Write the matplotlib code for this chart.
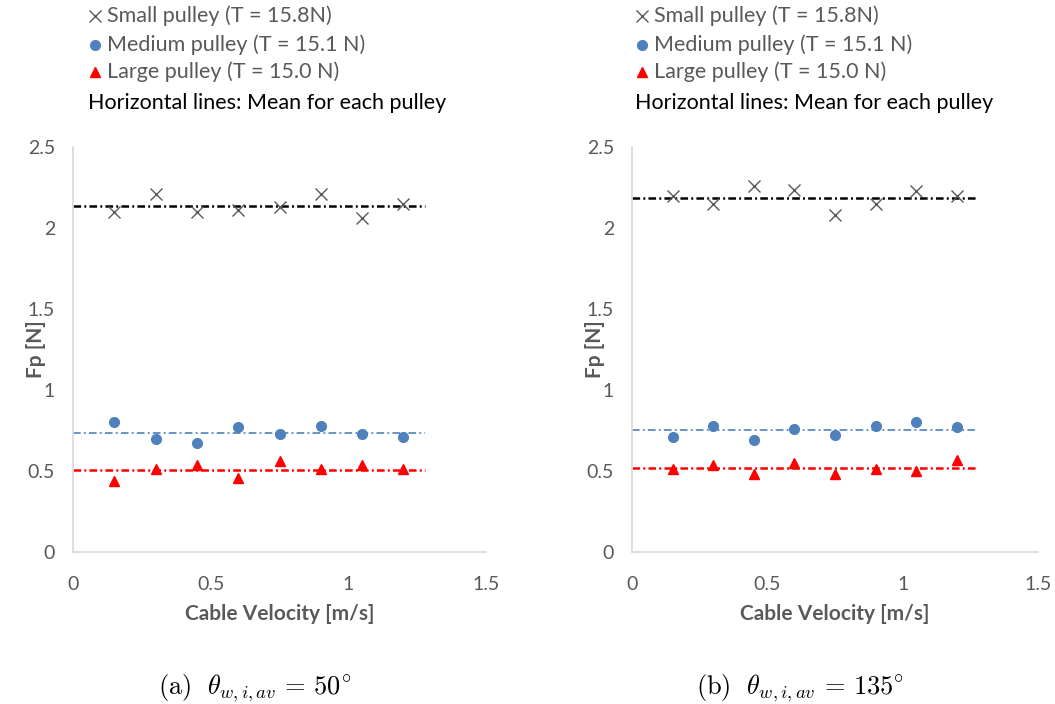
import numpy as np
import matplotlib
matplotlib.use("Agg")
import matplotlib.pyplot as plt
from matplotlib.lines import Line2D

plt.rcParams['font.family'] = ['Lato', 'DejaVu Sans']
plt.rcParams['mathtext.fontset'] = 'cm'

# Cable velocity (m/s), same for all series
velocity = [0.15, 0.30, 0.45, 0.60, 0.75, 0.90, 1.05, 1.20]

# Panel (a): theta = 50 deg
small_a = [2.10, 2.21, 2.10, 2.11, 2.13, 2.21, 2.06, 2.15]
medium_a = [0.80, 0.70, 0.67, 0.77, 0.73, 0.78, 0.73, 0.71]
large_a = [0.44, 0.51, 0.54, 0.455, 0.56, 0.51, 0.535, 0.515]

# Panel (b): theta = 135 deg
small_b = [2.20, 2.15, 2.26, 2.235, 2.08, 2.15, 2.23, 2.20]
medium_b = [0.71, 0.78, 0.69, 0.76, 0.72, 0.78, 0.80, 0.77]
large_b = [0.51, 0.54, 0.48, 0.55, 0.48, 0.51, 0.50, 0.57]

legend_labels = ["Small pulley (T = 15.8N)", "Medium pulley (T = 15.1 N)",
                 "Large pulley (T = 15.0 N)"]
captions = [r"$\mathrm{(a)}\ \ \theta_{w,i,av} \,=\, 50^{\circ}$",
            r"$\mathrm{(b)}\ \ \theta_{w,i,av} \,=\, 135^{\circ}$"]

GREY = '#595959'
BLUE = '#4F81BD'
RED = '#FF0000'
W, H = 1055, 704

fig = plt.figure(figsize=(W / 100, H / 100), dpi=100)


def px(x, y):
    return x / W, 1 - y / H


def dashdot(lw):
    # dash-dot pattern with a fixed length in points, whatever the width
    return (0, (5.5 / lw, 2.3 / lw, 1.4 / lw, 2.3 / lw))


panels = [
    dict(left=73, right=486, small=small_a, medium=medium_a, large=large_a,
         cap_x=255, leg_x=88),
    dict(left=632, right=1038, small=small_b, medium=medium_b, large=large_b,
         cap_x=800, leg_x=635),
]

for i, p in enumerate(panels):
    l, b = px(p['left'], 552)
    wpx = p['right'] - p['left']
    ax = fig.add_axes([l, b, wpx / W, (552 - 147) / H])

    ax.plot(velocity, p['small'], 'x', color=GREY, ms=9, mew=1.0, zorder=3)
    ax.plot(velocity, p['medium'], 'o', color=BLUE, ms=7, zorder=3)
    ax.plot(velocity, p['large'], '^', color=RED, ms=7.5, zorder=3)

    # mean lines
    for vals, col, lw in [(p['small'], 'black', 1.8), (p['medium'], BLUE, 1.2),
                          (p['large'], RED, 1.8)]:
        m = np.mean(vals)
        ax.plot([0, 1.28], [m, m], color=col, lw=lw, ls=dashdot(lw), zorder=2)

    ax.set_xlim(0, 1.5)
    ax.set_ylim(0, 2.5)
    ax.set_xticks([0, 0.5, 1, 1.5])
    ax.set_xticklabels(['0', '0.5', '1', '1.5'])
    ax.set_yticks([0, 0.5, 1, 1.5, 2, 2.5])
    ax.set_yticklabels(['0', '0.5', '1', '1.5', '2', '2.5'])
    ax.tick_params(length=0, labelsize=14, labelcolor=GREY)
    ax.tick_params(axis='x', pad=17)
    ax.tick_params(axis='y', pad=13)
    for s in ['top', 'right']:
        ax.spines[s].set_visible(False)
    for s in ['left', 'bottom']:
        ax.spines[s].set_color('#D9D9D9')
        ax.spines[s].set_linewidth(1.2)

    ax.set_xlabel('Cable Velocity [m/s]', fontsize=15, fontweight='bold',
                  color=GREY)
    ax.set_ylabel('Fp [N]', fontsize=15, fontweight='bold', color=GREY)
    ax.xaxis.set_label_coords(0.5, -0.128)
    ax.yaxis.set_label_coords(-27 / wpx, 0.5)

    # caption
    cx, cy = px(p['cap_x'], 688)
    fig.text(cx, cy, captions[i], fontsize=19, ha='center', va='center')

    # legend block above the plot
    lx = p['leg_x']
    marks = [('x', GREY, 9, 16), ('o', BLUE, 7, 45), ('^', RED, 7.5, 72)]
    for (mk, col, ms, yy), lab in zip(marks, legend_labels):
        mx, my = px(lx + 7, yy)
        fig.add_artist(Line2D([mx], [my], marker=mk, color=col, ms=ms,
                              mew=1.0, ls='none', transform=fig.transFigure))
        tx, ty = px(lx + 19, yy)
        fig.text(tx, ty, lab, fontsize=15.5, color=GREY, va='center', ha='left')
    hx, hy = px(lx, 103)
    fig.text(hx, hy, 'Horizontal lines: Mean for each pulley', fontsize=15.5,
             color='black', va='center', ha='left')

fig.savefig('out.png', dpi=100)
